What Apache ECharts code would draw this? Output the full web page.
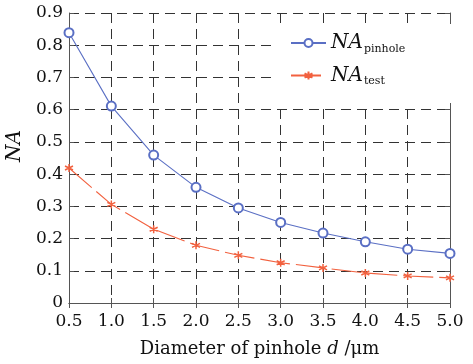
<!DOCTYPE html>
<html>
<head>
<meta charset="utf-8">
<script src="https://cdn.jsdelivr.net/npm/echarts@6/dist/echarts.min.js"></script>
<style>
  html, body { margin: 0; padding: 0; background: #fff; }
  #chart { width: 473px; height: 364px; }
</style>
</head>
<body>
<div id="chart"></div>
<script>
const diameters = [0.5, 1.0, 1.5, 2.0, 2.5, 3.0, 3.5, 4.0, 4.5, 5.0]
const naPinhole = [0.839, 0.611, 0.459, 0.359, 0.295, 0.25, 0.217, 0.19, 0.167, 0.154]
const naTest = [0.419, 0.306, 0.229, 0.179, 0.148, 0.125, 0.109, 0.093, 0.084, 0.078]

const serif = 'DejaVu Serif'
const frameColor = '#555'
const gridColor = '#333'
const blue = '#5a6fc4'
const red = '#f2613f'

const asterisk = 'path://M0,-10L0,10M-8.7,-5L8.7,5M-8.7,5L8.7,-5M-1,0L1,0'

function pairs(ys) {
  return diameters.map((x, i) => [x, ys[i]])
}

const chart = echarts.init(document.getElementById('chart'), null, { renderer: 'canvas' })

const legendRich = {
  a: { fontFamily: serif, fontStyle: 'italic', fontSize: 20, color: '#111' },
  b: { fontFamily: serif, fontSize: 11, color: '#111', padding: [12, 0, 0, 1] }
}

chart.setOption({
  backgroundColor: '#fff',
  animation: false,
  grid: { left: 69, right: 23, top: 13, bottom: 61, containLabel: false, outerBoundsMode: 'none' },
  legend: {
    orient: 'vertical',
    left: 276,
    top: 24,
    padding: [9, 50, 16, 14],
    backgroundColor: '#fff',
    itemWidth: 35,
    itemHeight: 10,
    itemGap: 11,
    data: ['pinhole', 'test'],
    formatter: name => '{a|NA}{b|' + name + '}',
    textStyle: { rich: legendRich }
  },
  xAxis: [
    {
      type: 'value',
      min: 0.5,
      max: 5.0,
      interval: 0.5,
      name: '{n|Diameter of pinhole }{i|d}{n| /μm}',
      nameLocation: 'middle',
      nameGap: 37,
      nameTextStyle: {
        rich: {
          n: { fontFamily: serif, fontSize: 18, color: '#111' },
          i: { fontFamily: serif, fontStyle: 'italic', fontSize: 18, color: '#111' }
        }
      },
      axisLine: { lineStyle: { color: frameColor, width: 1 } },
      axisTick: { inside: true, length: 5, lineStyle: { color: frameColor } },
      axisLabel: {
        fontFamily: serif, fontSize: 17, color: '#111', margin: 10,
        formatter: v => v.toFixed(1)
      },
      splitLine: { show: true, lineStyle: { color: gridColor, type: [10, 6], width: 1 } }
    },
    {
      type: 'value',
      position: 'top',
      min: 0.5,
      max: 5.0,
      interval: 0.5,
      axisLine: { show: true, lineStyle: { color: frameColor } },
      axisTick: { inside: true, length: 5, lineStyle: { color: frameColor } },
      axisLabel: { show: false },
      splitLine: { show: false }
    }
  ],
  yAxis: [
    {
      type: 'value',
      min: 0,
      max: 0.9,
      interval: 0.1,
      name: 'NA',
      nameLocation: 'middle',
      nameGap: 44,
      nameRotate: 90,
      nameTextStyle: { fontFamily: serif, fontStyle: 'italic', fontSize: 20, color: '#111', padding: [0, 0, 0, 24] },
      axisLine: { show: true, lineStyle: { color: frameColor } },
      axisTick: { inside: true, length: 5, lineStyle: { color: frameColor } },
      axisLabel: {
        fontFamily: serif, fontSize: 17, color: '#111', margin: 6,
        formatter: v => v === 0 ? '0' : v.toFixed(1)
      },
      splitLine: { show: true, lineStyle: { color: gridColor, type: [10, 6], width: 1 } }
    },
    {
      type: 'value',
      position: 'right',
      min: 0,
      max: 0.9,
      interval: 0.1,
      axisLine: { show: true, lineStyle: { color: frameColor } },
      axisTick: { show: true, inside: true, length: 5, lineStyle: { color: frameColor } },
      axisLabel: { show: false },
      splitLine: { show: false }
    }
  ],
  series: [
    {
      name: 'pinhole',
      type: 'line',
      data: pairs(naPinhole),
      symbol: 'emptyCircle',
      symbolSize: 9,
      lineStyle: { color: blue, width: 1.1 },
      itemStyle: { color: blue, borderColor: blue, borderWidth: 1.1 },
      z: 3
    },
    {
      name: 'test',
      type: 'line',
      data: pairs(naTest),
      symbol: asterisk,
      symbolSize: 8,
      lineStyle: { color: red, width: 1.1, type: [30, 6] },
      itemStyle: { color: red, borderColor: red, borderWidth: 1.5 },
      z: 3
    }
  ]
})
</script>
</body>
</html>
